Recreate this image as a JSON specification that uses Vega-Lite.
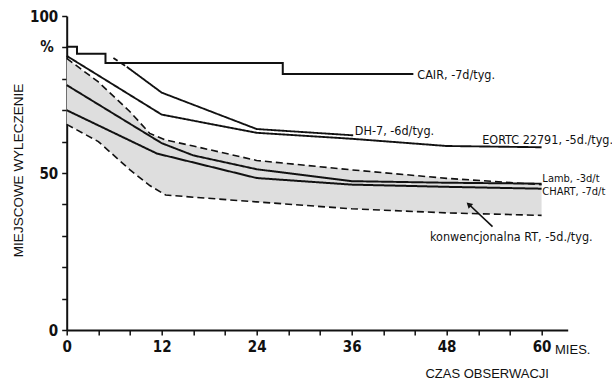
{
  "$schema": "https://vega.github.io/schema/vega-lite/v6.json",
  "width": 501,
  "height": 314,
  "autosize": {"type": "none"},
  "padding": {"left": 66.7, "top": 16, "right": 44.3, "bottom": 50},
  "background": "white",
  "config": {"view": {"stroke": null}},
  "datasets": {
    "band": [
      {"m": 0, "lo": 65.5, "hi": 86.5},
      {"m": 4, "lo": 60, "hi": 79},
      {"m": 8, "lo": 51, "hi": 69.5},
      {"m": 10.5, "lo": 46, "hi": 62.6},
      {"m": 12.5, "lo": 43, "hi": 60.5},
      {"m": 16, "lo": 42.3, "hi": 58.6},
      {"m": 24, "lo": 40.8, "hi": 54},
      {"m": 36, "lo": 38.6, "hi": 51},
      {"m": 48, "lo": 37.3, "hi": 48.3},
      {"m": 60, "lo": 36.5, "hi": 46.3}
    ],
    "cair": [
      {"m": 0, "v": 90.2},
      {"m": 1.3, "v": 88},
      {"m": 4.9, "v": 85},
      {"m": 27.3, "v": 81.5},
      {"m": 43.8, "v": 81.5}
    ],
    "lines": [
      {"s": "DH-7 start", "m": 5.9, "v": 86.6},
      {"s": "DH-7 start", "m": 7.6, "v": 83.8},
      {"s": "DH-7", "m": 7.6, "v": 83.8},
      {"s": "DH-7", "m": 12, "v": 75.6},
      {"s": "DH-7", "m": 24, "v": 64},
      {"s": "DH-7", "m": 36.2, "v": 62},
      {"s": "EORTC", "m": 0, "v": 87.3},
      {"s": "EORTC", "m": 12, "v": 68.6},
      {"s": "EORTC", "m": 24, "v": 62.8},
      {"s": "EORTC", "m": 36, "v": 60.9},
      {"s": "EORTC", "m": 48, "v": 58.6},
      {"s": "EORTC", "m": 60, "v": 58.2},
      {"s": "Lamb", "m": 0, "v": 78},
      {"s": "Lamb", "m": 12, "v": 59.5},
      {"s": "Lamb", "m": 16, "v": 55.6},
      {"s": "Lamb", "m": 24, "v": 51.2},
      {"s": "Lamb", "m": 36, "v": 47.4},
      {"s": "Lamb", "m": 48, "v": 46.9},
      {"s": "Lamb", "m": 60, "v": 46.6},
      {"s": "CHART", "m": 0, "v": 70},
      {"s": "CHART", "m": 11.4, "v": 56.2},
      {"s": "CHART", "m": 24, "v": 48.4},
      {"s": "CHART", "m": 36, "v": 46.3},
      {"s": "CHART", "m": 48, "v": 45.6},
      {"s": "CHART", "m": 60, "v": 45}
    ],
    "arrow": [
      {"m": 53.8, "v": 32.9},
      {"m": 50.7, "v": 40.3}
    ],
    "arrowhead": [
      {"m": 50.8, "v": 40.0}
    ],
    "labels": [
      {"t": "CAIR, -7d/tyg.", "m": 44.3, "v": 81.2},
      {"t": "DH-7, -6d/tyg.", "m": 36.4, "v": 63.4},
      {"t": "EORTC 22791, -5d./tyg.", "m": 52.5, "v": 60.6},
      {"t": "konwencjonalna RT, -5d./tyg.", "m": 45.9, "v": 29.7}
    ],
    "small": [
      {"t": "Lamb, -3d/t", "m": 60.1, "v": 48.0},
      {"t": "CHART, -7d/t", "m": 60.1, "v": 43.9}
    ],
    "pct": [
      {"t": "%", "m": -2.5, "v": 90.1}
    ],
    "unit": [
      {"t": "MIES.", "m": 61.7, "v": -6.4}
    ]
  },
  "encoding": {
    "x": {
      "field": "m",
      "type": "quantitative",
      "scale": {"domain": [0, 63.3], "nice": false, "zero": false},
      "axis": {
        "values": [0, 4, 8, 12, 16, 20, 24, 28, 32, 36, 40, 44, 48, 52, 56, 60],
        "labelExpr": "datum.value % 12 == 0 ? datum.label : ''",
        "labelFlush": false,
        "labelOverlap": false,
        "labelFont": "Liberation Sans Narrow, DejaVu Sans Condensed, sans-serif",
        "labelFontSize": 15,
        "labelFontWeight": "bold",
        "labelColor": "#111",
        "labelPadding": 4,
        "tickSize": 5,
        "tickWidth": 1.5,
        "tickColor": "#111",
        "domainColor": "#111",
        "domainWidth": 2,
        "grid": false,
        "title": "CZAS  OBSERWACJI",
        "titleFont": "Liberation Sans, Arial, sans-serif",
        "titleFontSize": 13,
        "titleFontWeight": "normal",
        "titleColor": "#111",
        "titleX": 420,
        "titleY": 43,
        "titleAlign": "center",
        "titleBaseline": "middle"
      }
    },
    "y": {
      "field": "v",
      "type": "quantitative",
      "scale": {"domain": [0, 100], "nice": false, "zero": false},
      "axis": {
        "values": [0, 10, 20, 30, 40, 50, 60, 70, 80, 90, 100],
        "labelExpr": "datum.value == 0 || datum.value == 50 || datum.value == 100 ? datum.label : ''",
        "labelFlush": false,
        "labelOverlap": false,
        "labelFont": "Liberation Sans Narrow, DejaVu Sans Condensed, sans-serif",
        "labelFontSize": 15,
        "labelFontWeight": "bold",
        "labelColor": "#111",
        "labelPadding": 4,
        "tickSize": 5,
        "tickWidth": 1.5,
        "tickColor": "#111",
        "domainColor": "#111",
        "domainWidth": 2,
        "grid": false,
        "title": "MIEJSCOWE WYLECZENIE",
        "titleFont": "Liberation Sans, Arial, sans-serif",
        "titleFontSize": 13.5,
        "titleFontWeight": "normal",
        "titleColor": "#111",
        "titleAngle": -90,
        "titleX": -48,
        "titleY": 154,
        "titleAlign": "center",
        "titleBaseline": "middle"
      }
    }
  },
  "layer": [
    {
      "data": {"name": "band"},
      "mark": {"type": "area", "fill": "#dedede", "opacity": 1},
      "encoding": {
        "y": {"field": "lo", "type": "quantitative"},
        "y2": {"field": "hi"}
      }
    },
    {
      "data": {"name": "band"},
      "mark": {"type": "line", "color": "#111", "strokeWidth": 1.6, "strokeDash": [7, 4]},
      "encoding": {"y": {"field": "hi", "type": "quantitative"}}
    },
    {
      "data": {"name": "band"},
      "mark": {"type": "line", "color": "#111", "strokeWidth": 1.6, "strokeDash": [7, 4]},
      "encoding": {"y": {"field": "lo", "type": "quantitative"}}
    },
    {
      "data": {"name": "cair"},
      "mark": {"type": "line", "color": "#111", "strokeWidth": 2, "interpolate": "step-after"}
    },
    {
      "data": {"name": "lines"},
      "mark": {"type": "line", "color": "#111"},
      "encoding": {
        "strokeDash": {
          "field": "s",
          "type": "nominal",
          "scale": {
            "domain": ["DH-7 start", "DH-7", "EORTC", "Lamb", "CHART"],
            "range": [[5, 4], [1, 0], [1, 0], [1, 0], [1, 0]]
          },
          "legend": null
        },
        "strokeWidth": {
          "field": "s",
          "type": "nominal",
          "scale": {
            "domain": ["DH-7 start", "DH-7", "EORTC", "Lamb", "CHART"],
            "range": [1.8, 2, 1.6, 2, 2.4]
          },
          "legend": null
        }
      }
    },
    {
      "data": {"name": "arrow"},
      "mark": {"type": "line", "color": "#111", "strokeWidth": 1.6}
    },
    {
      "data": {"name": "arrowhead"},
      "mark": {"type": "point", "shape": "triangle-up", "filled": true, "color": "#111", "size": 45, "angle": -47, "opacity": 1}
    },
    {
      "data": {"name": "labels"},
      "mark": {"type": "text", "align": "left", "baseline": "middle", "fontSize": 12.5, "font": "Liberation Sans Narrow, DejaVu Sans Condensed, sans-serif", "color": "#111"},
      "encoding": {"text": {"field": "t"}}
    },
    {
      "data": {"name": "small"},
      "mark": {"type": "text", "align": "left", "baseline": "middle", "fontSize": 11, "font": "Liberation Sans Narrow, DejaVu Sans Condensed, sans-serif", "color": "#111"},
      "encoding": {"text": {"field": "t"}}
    },
    {
      "data": {"name": "pct"},
      "mark": {"type": "text", "align": "center", "baseline": "middle", "fontSize": 15, "fontWeight": "bold", "font": "Liberation Sans Narrow, DejaVu Sans Condensed, sans-serif", "color": "#111"},
      "encoding": {"text": {"field": "t"}}
    },
    {
      "data": {"name": "unit"},
      "mark": {"type": "text", "align": "left", "baseline": "middle", "fontSize": 13, "font": "Liberation Sans, Arial, sans-serif", "color": "#111"},
      "encoding": {"text": {"field": "t"}}
    }
  ]
}
